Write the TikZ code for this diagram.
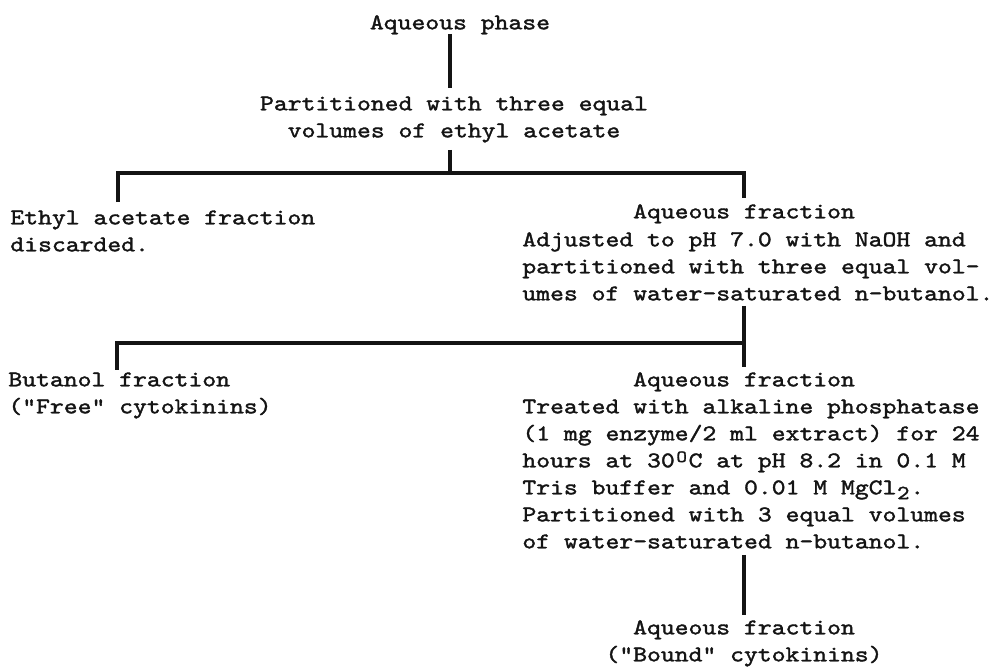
\documentclass[tikz,border=0pt]{standalone}
\usepackage{fontspec}
\newfontfamily\typewr[Extension=.otf,Ligatures=TeXOff,FakeBold=1.6,FakeStretch=1.178]{lmmono10-regular}
\usepackage{xcolor}
\definecolor{inkclr}{RGB}{20, 20, 20}
\newcommand{\raisedO}{\makebox[0.6185em]{\raisebox{0.55ex}{\fontsize{8.5}{8.5}\selectfont O}}}
\newcommand{\lowtwo}{\makebox[0.6185em]{\raisebox{-0.5ex}{\fontsize{10}{10}\selectfont 2}}}
\tikzset{
  % Typed text blocks
  typed/.style  = {inner sep=0pt, font=\typewr\fontsize{11.2}{13.5}\selectfont, text=inkclr},
  typedL/.style = {typed, anchor=north west, align=left},
  typedC/.style = {typed, anchor=north, align=center},
  % Connector lines
  link/.style   = {draw=inkclr, line width=1.6pt},
}

\begin{document}
\begin{tikzpicture}[x=0.5pt, y=-0.5pt]
  \useasboundingbox (0,0) rectangle (996,666);
  % Top of the scheme
  \node[typedC] (phase) at (460,10) {\strut Aqueous phase};
  \node[typedC] (part) at (454,91) {\strut Partitioned with three equal\\volumes of ethyl acetate};
  % First split
  \node[typedL] (ethyl) at (10,205) {\strut Ethyl acetate fraction\\discarded.};
  \node[typedC] (aq1) at (744,199) {\strut Aqueous fraction};
  \node[typedL] (adj) at (522,227) {\strut Adjusted to pH 7.0 with NaOH and\\partitioned with three equal vol-\\umes of water-saturated n-butanol.};
  % Second split
  \node[typedL] (but) at (8,367) {\strut Butanol fraction\\("Free" cytokinins)};
  \node[typedC] (aq2) at (744,367) {\strut Aqueous fraction};
  \node[typedL] (treat) at (522,394) {\strut Treated with alkaline phosphatase\\(1 mg enzyme/2 ml extract) for 24\\hours at 30\raisedO C at pH 8.2 in 0.1 M\\Tris buffer and 0.01 M MgCl\lowtwo.\\Partitioned with 3 equal volumes\\of water-saturated n-butanol.};
  % End product
  \node[typedC] (bound) at (744,615) {\strut Aqueous fraction\\("Bound" cytokinins)};
  % Branch points
  \coordinate (spine) at (450,173);
  \coordinate (lt1) at (118,173);
  \coordinate (lt2) at (117,343);
  % Lines
  \draw[link] ([yshift=2pt]phase.south -| spine) -- ([yshift=1.5pt]part.north -| spine);
  \draw[link] ([yshift=-3.5pt]part.south -| spine) -- (spine);
  \draw[link] ([yshift=1.5pt]ethyl.north -| lt1) -- (lt1) -- (lt1 -| aq1.north) -- ([yshift=0.5pt]aq1.north);
  \draw[link] ([yshift=-2.5pt]adj.south -| aq2.north) -- (aq2.north);
  \draw[link] (lt2 -| aq2.north) -- (lt2) -- ([yshift=-1.5pt]but.north -| lt2);
  \draw[link] ([yshift=-3pt]treat.south -| bound.north) -- (bound.north);
\end{tikzpicture}
\end{document}
